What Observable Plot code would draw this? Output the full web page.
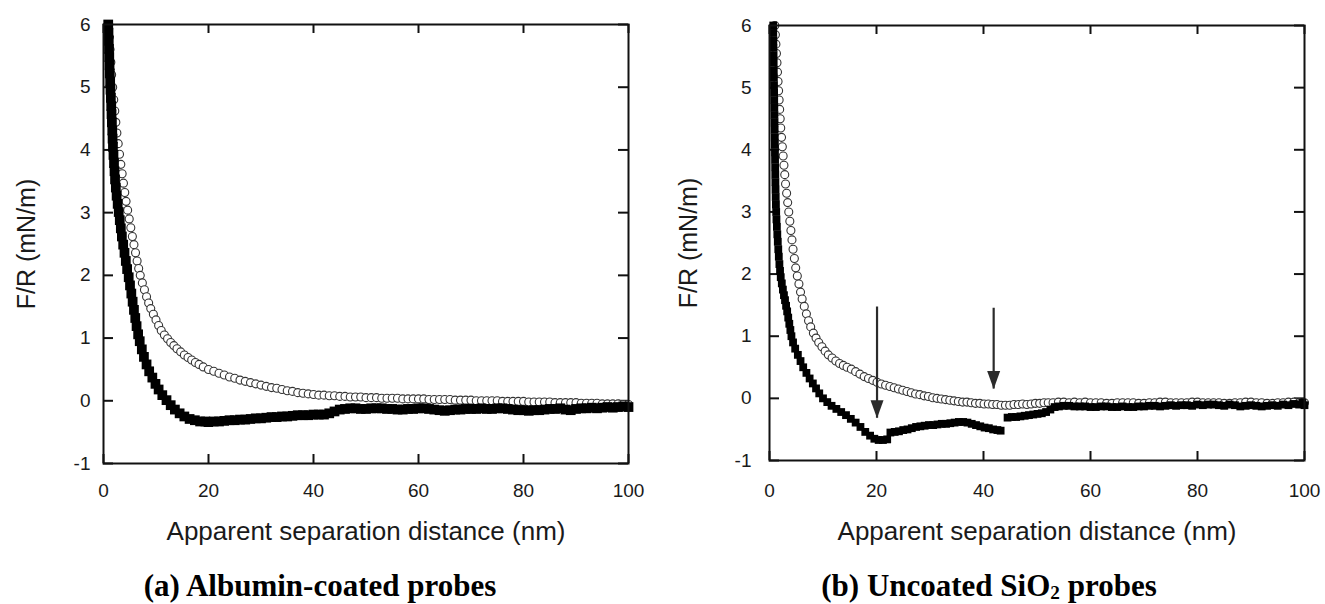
<!DOCTYPE html>
<html>
<head>
<meta charset="utf-8">
<script src="https://cdn.jsdelivr.net/npm/d3@7"></script>
<script src="https://cdn.jsdelivr.net/npm/@observablehq/plot@0.6"></script>
<style>
  html, body { margin: 0; padding: 0; background: #fff; }
  #fig { position: relative; width: 1325px; height: 604px; overflow: hidden; background: #fff; }
  .panel { position: absolute; top: 0; }
  .caption {
    position: absolute; width: 600px; text-align: center;
    font-family: "Liberation Serif", "Times New Roman", serif;
    font-weight: bold; font-size: 31px; line-height: 31px; color: #000;
    white-space: nowrap;
  }
  .caption sub { font-size: 0.62em; vertical-align: -0.18em; line-height: 0; }
</style>
</head>
<body>
<div id="fig"></div>
<script>
// Axis ticks and labels shared by both panels
const xTicks = [0, 20, 40, 60, 80, 100];
const yTicks = [-1, 0, 1, 2, 3, 4, 5, 6];
const xLabel = "Apparent separation distance (nm)";
const yLabel = "F/R (mN/m)";

// (a) Albumin-coated probes: filled squares [separation nm, F/R mN/m]
const albuminFilled = [
  [0.9,6.0],[0.95,5.87],[1.0,5.74],[1.05,5.61],[1.1,5.48],[1.15,5.35],[1.2,5.22],[1.27,5.09],[1.33,4.96],
  [1.4,4.83],[1.47,4.7],[1.53,4.57],[1.6,4.44],[1.67,4.31],[1.73,4.18],[1.8,4.05],[1.9,3.92],[2.0,3.79],
  [2.1,3.66],[2.2,3.53],[2.35,3.4],[2.5,3.27],[2.7,3.14],[2.9,3.01],[3.1,2.88],[3.3,2.75],[3.5,2.62],
  [3.75,2.49],[4.0,2.36],[4.25,2.23],[4.5,2.1],[4.8,1.97],[5.05,1.84],[5.3,1.71],[5.55,1.58],[5.8,1.45],
  [6.05,1.32],[6.3,1.19],[6.6,1.06],[6.9,0.95],[7.3,0.82],[7.7,0.7],[8.2,0.58],[8.7,0.47],[9.3,0.37],
  [9.9,0.27],[10.5,0.18],[11.2,0.09],[12.0,0.01],[12.8,-0.07],[13.6,-0.14],[14.5,-0.2],[15.4,-0.25],
  [16.4,-0.29],[17.4,-0.31],[18.4,-0.33],[19.4,-0.33],
  [20,-0.34],[21,-0.33],[22,-0.33],[23,-0.32],[24,-0.31],[25,-0.31],[26,-0.3],[27,-0.3],[28,-0.29],
  [29,-0.28],[30,-0.28],[31,-0.27],[32,-0.26],[33,-0.26],[34,-0.25],[35,-0.25],[36,-0.24],[37,-0.23],
  [38,-0.23],[39,-0.23],[40,-0.22],[41,-0.22],[42,-0.22],[43,-0.2],[44,-0.17],[45,-0.14],[46,-0.13],
  [47,-0.12],[48,-0.12],[49,-0.13],[50,-0.13],[51,-0.12],[52,-0.12],[53,-0.12],[54,-0.13],[55,-0.13],
  [56,-0.14],[57,-0.14],[58,-0.13],[59,-0.13],[60,-0.12],[61,-0.12],[62,-0.13],[63,-0.14],[64,-0.15],
  [65,-0.16],[66,-0.15],[67,-0.14],[68,-0.14],[69,-0.13],[70,-0.13],[71,-0.13],[72,-0.12],[73,-0.13],
  [74,-0.13],[75,-0.12],[76,-0.12],[77,-0.13],[78,-0.14],[79,-0.15],[80,-0.15],[81,-0.16],[82,-0.15],
  [83,-0.15],[84,-0.14],[85,-0.13],[86,-0.13],[87,-0.12],[88,-0.14],[89,-0.15],[90,-0.13],[91,-0.12],
  [92,-0.12],[93,-0.11],[94,-0.12],[95,-0.11],[96,-0.1],[97,-0.11],[98,-0.1],[99,-0.09],[100,-0.1]
];

// (a) Albumin-coated probes: open circles
const albuminOpen = [
  [1.0,6.0],[1.1,5.8],[1.25,5.6],[1.4,5.4],[1.55,5.2],[1.75,5.0],[1.95,4.8],[2.15,4.62],[2.35,4.44],
  [2.55,4.27],[2.8,4.1],[3.05,3.93],[3.3,3.77],[3.55,3.62],[3.8,3.47],[4.05,3.32],[4.3,3.18],[4.6,3.04],
  [4.9,2.9],[5.2,2.76],[5.5,2.62],[5.8,2.49],[6.1,2.36],[6.4,2.23],[6.7,2.11],[7.0,2.0],[7.4,1.88],
  [7.8,1.77],[8.2,1.66],[8.6,1.56],[9.0,1.47],[9.5,1.38],[10.0,1.29],[10.5,1.2],[11.0,1.12],[11.6,1.05],
  [12.2,0.99],[12.8,0.93],[13.4,0.88],[14.0,0.83],[14.7,0.78],[15.4,0.73],[16.1,0.69],[16.8,0.65],
  [17.5,0.61],[18.2,0.58],[19,0.54],[20,0.5],[21,0.47],[22,0.44],[23,0.41],[24,0.38],[25,0.36],
  [26,0.33],[27,0.31],[28,0.29],[29,0.27],[30,0.25],[31,0.23],[32,0.21],[33,0.2],[34,0.18],[35,0.16],
  [36,0.15],[37,0.13],[38,0.12],[39,0.11],[40,0.1],[41,0.09],[42,0.09],[43,0.08],[44,0.08],[45,0.07],
  [46,0.07],[47,0.06],[48,0.06],[49,0.06],[50,0.05],[51,0.05],[52,0.05],[53,0.04],[54,0.04],[55,0.04],
  [56,0.04],[57,0.03],[58,0.03],[59,0.03],[60,0.03],[61,0.03],[62,0.02],[63,0.02],[64,0.02],[65,0.02],
  [66,0.02],[67,0.01],[68,0.01],[69,0.01],[70,0.01],[71,0],[72,0],[73,0],[74,0],[75,0],[76,-0.01],
  [77,-0.01],[78,-0.01],[79,-0.01],[80,-0.01],[81,-0.02],[82,-0.02],[83,-0.02],[84,-0.02],[85,-0.02],
  [86,-0.03],[87,-0.03],[88,-0.03],[89,-0.03],[90,-0.03],[91,-0.04],[92,-0.04],[93,-0.04],[94,-0.04],
  [95,-0.05],[96,-0.05],[97,-0.05],[98,-0.05],[99,-0.06],[100,-0.06]
];

// (b) Uncoated SiO2 probes: filled squares (break near 43-44 nm)
const silicaFilled = [
  [0.7,6.0],[0.7,5.88],[0.72,5.76],[0.74,5.64],[0.76,5.52],[0.78,5.4],[0.8,5.28],[0.82,5.16],[0.84,5.04],
  [0.86,4.92],[0.88,4.8],[0.9,4.68],[0.92,4.56],[0.94,4.44],[0.96,4.32],[0.98,4.2],[1.0,4.08],[1.02,3.96],
  [1.04,3.84],[1.06,3.72],[1.08,3.6],[1.1,3.48],[1.13,3.36],[1.16,3.24],[1.2,3.12],[1.25,3.0],[1.3,2.88],
  [1.38,2.76],[1.46,2.64],[1.55,2.52],[1.64,2.4],[1.74,2.28],[1.85,2.16],[1.97,2.05],[2.1,1.95],
  [2.3,1.85],[2.5,1.75],[2.7,1.66],[2.9,1.58],[3.1,1.49],[3.3,1.4],[3.5,1.3],[3.7,1.2],[3.9,1.1],
  [4.1,1.0],[4.4,0.9],[4.8,0.8],[5.3,0.7],[5.8,0.6],[6.3,0.5],[6.9,0.41],[7.5,0.32],[8.1,0.24],
  [8.7,0.16],[9.3,0.08],[10,0.0],[10.8,-0.06],[11.6,-0.12],[12.5,-0.17],[13.4,-0.22],[14.3,-0.27],
  [15.2,-0.33],[16.1,-0.39],[17,-0.46],[17.9,-0.54],[18.8,-0.6],[19.6,-0.65],[20.4,-0.67],[21.2,-0.67],
  [22,-0.66],[22.6,-0.55],[23.4,-0.54],[24.2,-0.53],[25,-0.51],[25.8,-0.5],[26.6,-0.48],[27.4,-0.46],
  [28.2,-0.45],[29,-0.44],[29.8,-0.43],[30.6,-0.43],[31.4,-0.42],[32.2,-0.41],[33,-0.41],[33.8,-0.4],
  [34.6,-0.39],[35.4,-0.38],[36.2,-0.38],[37,-0.39],[37.8,-0.41],[38.6,-0.43],[39.4,-0.45],[40.2,-0.47],
  [41,-0.48],[41.8,-0.5],[42.6,-0.51],[43.2,-0.52],
  [44.5,-0.31],[45.3,-0.3],[46.1,-0.3],[46.9,-0.29],[47.7,-0.28],[48.5,-0.27],[49.3,-0.26],[50.1,-0.25],
  [50.9,-0.24],[51.7,-0.22],[52.5,-0.18],[53.3,-0.14],[54.1,-0.13],[55,-0.12],[56,-0.12],[57,-0.13],
  [58,-0.13],[59,-0.13],[60,-0.14],[61,-0.14],[62,-0.13],[63,-0.13],[64,-0.14],[65,-0.14],[66,-0.13],
  [67,-0.14],[68,-0.14],[69,-0.13],[70,-0.13],[71,-0.12],[72,-0.12],[73,-0.13],[74,-0.12],[75,-0.11],
  [76,-0.12],[77,-0.11],[78,-0.11],[79,-0.12],[80,-0.1],[81,-0.11],[82,-0.1],[83,-0.1],[84,-0.11],
  [85,-0.12],[86,-0.1],[87,-0.11],[88,-0.13],[89,-0.12],[90,-0.11],[91,-0.12],[92,-0.13],[93,-0.12],
  [94,-0.11],[95,-0.12],[96,-0.1],[97,-0.11],[98,-0.09],[99,-0.1],[99.6,-0.07],[100,-0.11]
];

// (b) Uncoated SiO2 probes: open circles
const silicaOpen = [
  [1.0,6.0],[1.1,5.85],[1.2,5.7],[1.3,5.55],[1.4,5.4],[1.5,5.25],[1.6,5.1],[1.7,4.95],[1.8,4.8],
  [1.9,4.65],[2.0,4.5],[2.1,4.35],[2.25,4.2],[2.4,4.05],[2.55,3.9],[2.7,3.75],[2.85,3.6],[3.0,3.45],
  [3.2,3.3],[3.4,3.15],[3.6,3.0],[3.8,2.85],[4.0,2.7],[4.2,2.55],[4.4,2.4],[4.65,2.25],[4.9,2.1],
  [5.2,1.97],[5.5,1.84],[5.8,1.71],[6.1,1.6],[6.5,1.48],[6.9,1.36],[7.3,1.25],[7.7,1.15],[8.2,1.05],
  [8.7,0.97],[9.2,0.9],[9.8,0.83],[10.4,0.76],[11,0.7],[11.7,0.65],[12.4,0.6],[13.1,0.56],[13.8,0.53],
  [14.5,0.5],[15.3,0.47],[16.1,0.43],[16.9,0.39],[17.7,0.35],[18.5,0.32],[19.3,0.29],[20.1,0.26],
  [20.9,0.23],[21.7,0.21],[22.5,0.19],[23.3,0.17],[24.1,0.15],[24.9,0.13],[25.7,0.11],[26.5,0.09],
  [27.3,0.07],[28.1,0.06],[28.9,0.04],[29.7,0.03],[30.5,0.01],[31.3,0.0],[32.1,-0.01],[32.9,-0.02],
  [33.7,-0.03],[34.5,-0.04],[35.3,-0.05],[36.1,-0.06],[36.9,-0.06],[37.7,-0.07],[38.5,-0.08],
  [39.3,-0.08],[40.1,-0.09],[40.9,-0.09],[41.7,-0.1],[42.5,-0.1],[43.3,-0.11],[44.1,-0.11],[44.9,-0.11],
  [45.7,-0.1],[46.5,-0.1],[47.3,-0.09],[48.1,-0.1],[48.9,-0.09],[49.7,-0.08],[50.5,-0.08],[51.3,-0.07],
  [52.1,-0.07],[53,-0.07],[54,-0.06],[55,-0.06],[56,-0.07],[57,-0.06],[58,-0.07],[59,-0.06],[60,-0.07],
  [61,-0.07],[62,-0.07],[63,-0.08],[64,-0.08],[65,-0.07],[66,-0.07],[67,-0.07],[68,-0.07],[69,-0.08],
  [70,-0.08],[71,-0.07],[72,-0.07],[73,-0.06],[74,-0.06],[75,-0.07],[76,-0.07],[77,-0.07],[78,-0.07],
  [79,-0.06],[80,-0.06],[81,-0.07],[82,-0.07],[83,-0.07],[84,-0.07],[85,-0.08],[86,-0.08],[87,-0.07],
  [88,-0.07],[89,-0.06],[90,-0.06],[91,-0.07],[92,-0.07],[93,-0.08],[94,-0.08],[95,-0.07],[96,-0.07],
  [97,-0.06],[98,-0.06],[99,-0.07],[100,-0.07]
];

// Arrows marking the jump-in events in panel (b)
const arrowSeparation = [20.1, 41.9];
const arrowTop = [1.47, 1.45];
const arrowTip = [-0.32, 0.15];
const silicaArrows = arrowSeparation.map((x, i) => ({x, top: arrowTop[i], tip: arrowTip[i]}));

// Narrow filled arrowhead, tip at the anchor point
const arrowHead = {
  draw(context) {
    context.moveTo(0, 0);
    context.lineTo(-6.5, -18);
    context.lineTo(6.5, -18);
    context.closePath();
  }
};

const ink = "#111";

function panel({filled, open, squareR, width, height, margin, yPad, xPad, yLabelDx, xLabelDy, arrows}) {
  const innerW = width - margin.left - margin.right;
  const innerH = height - margin.top - margin.bottom;
  const tick = {stroke: ink, strokeWidth: 2};
  const marks = [
    // inward tick marks on all four sides
    Plot.ruleX(xTicks, {x: d => d, insetTop: innerH - 9, ...tick}),
    Plot.ruleX(xTicks, {x: d => d, insetBottom: innerH - 9, ...tick}),
    Plot.ruleY(yTicks, {y: d => d, insetRight: innerW - 10, ...tick}),
    Plot.ruleY(yTicks, {y: d => d, insetLeft: innerW - 10, ...tick}),
    Plot.axisX({ticks: xTicks, tickSize: 0, tickPadding: xPad, tickFormat: d => String(d), label: null, fontSize: 19}),
    Plot.axisY({ticks: yTicks, tickSize: 0, tickPadding: yPad, tickFormat: d => String(d), label: null, fontSize: 19}),
    Plot.dot(open, {x: d => d[0], y: d => d[1], r: 4, fill: "white", stroke: "#333", strokeWidth: 1.1}),
    Plot.dot(filled, {x: d => d[0], y: d => d[1], r: squareR, symbol: "square", fill: "black", stroke: "none"})
  ];
  if (arrows) {
    marks.push(
      Plot.ruleX(arrows, {x: "x", y1: "top", y2: "tip", stroke: "#2b2b2b", strokeWidth: 2.2}),
      Plot.dot(arrows, {x: "x", y: "tip", symbol: arrowHead, fill: "#2b2b2b", stroke: "none"})
    );
  }
  marks.push(
    Plot.frame({stroke: ink, strokeWidth: 2}),
    Plot.text([xLabel], {text: d => d, frameAnchor: "bottom", dy: xLabelDy, fontSize: 26, lineAnchor: "middle", textAnchor: "middle", fill: "#1a1a1a"}),
    Plot.text([yLabel], {text: d => d, frameAnchor: "left", dx: yLabelDx, rotate: -90, fontSize: 25, lineAnchor: "middle", textAnchor: "middle", fill: "#1a1a1a"})
  );
  return Plot.plot({
    width, height,
    marginLeft: margin.left, marginRight: margin.right, marginTop: margin.top, marginBottom: margin.bottom,
    x: {domain: [0, 100]},
    y: {domain: [-1, 6]},
    style: {fontFamily: "'Liberation Sans', Arial, sans-serif", color: "#1a1a1a", background: "transparent", overflow: "visible"},
    marks
  });
}

const fig = document.getElementById("fig");

const left = panel({
  filled: albuminFilled, open: albuminOpen, squareR: 5.5,
  width: 660, height: 560, margin: {left: 103, right: 32, top: 24, bottom: 97},
  yPad: 13, xPad: 20, yLabelDx: -77, xLabelDy: 68
});
left.classList.add("panel");
left.style.left = "0px";
fig.appendChild(left);

const right = panel({
  filled: silicaFilled, open: silicaOpen, squareR: 4.4,
  width: 665, height: 560, margin: {left: 109, right: 21, top: 25, bottom: 100},
  yPad: 18, xPad: 23, yLabelDx: -81, xLabelDy: 71, arrows: silicaArrows
});
right.classList.add("panel");
right.style.left = "660px";
fig.appendChild(right);

// Panel captions
const capA = document.createElement("div");
capA.className = "caption";
capA.style.left = (320 - 300) + "px";
capA.style.top = "570px";
capA.textContent = "(a) Albumin-coated probes";
fig.appendChild(capA);

const capB = document.createElement("div");
capB.className = "caption";
capB.style.left = (989 - 300) + "px";
capB.style.top = "570px";
capB.innerHTML = "(b) Uncoated SiO<sub>2</sub> probes";
fig.appendChild(capB);
</script>
</body>
</html>
